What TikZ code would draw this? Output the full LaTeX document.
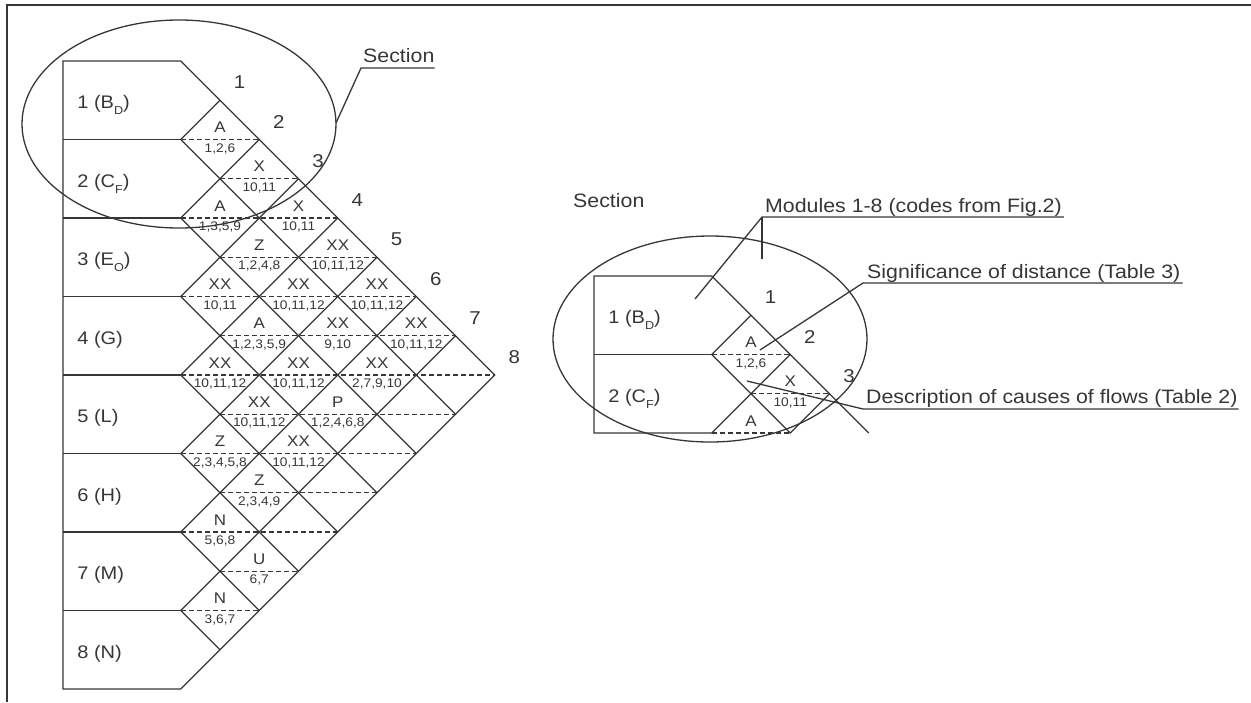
\documentclass[tikz,border=0pt]{standalone}
\usepackage{fontspec}
\setmainfont{Liberation Sans}[FakeStretch=1.1]
\definecolor{ink}{HTML}{363636}
\newcommand\fsz[1]{\fontsize{#1}{#1}\selectfont}
\newcommand\sbs[1]{\raisebox{-6pt}{\fsz{11.5}#1}}
\tikzset{every node/.style={inner sep=0pt,text=ink}}
\tikzset{ln/.style={draw=ink,line width=1.3pt}}
\tikzset{dl/.style={ln,dash pattern=on 5pt off 3pt}}
\tikzset{mod/.style={anchor=base west,font=\fsz{18.2}}}
\tikzset{colnum/.style={font=\fsz{18.6}}}
\tikzset{ltr/.style={anchor=base,font=\fsz{15.4}}}
\tikzset{num/.style={anchor=base,font=\fsz{12.5}}}
\tikzset{lab/.style={anchor=base west,font=\fsz{19.4}}}

\begin{document}
\begin{tikzpicture}[x=1pt,y=-1pt]
  \useasboundingbox (0,0) rectangle (1251,702);
  \draw[ink,line width=1.6pt] (1251,5) -- (7,5) -- (7,702);

  % full matrix of modules 1-8
  \begin{scope}[xshift=63pt,yshift=-61pt,x=39.25pt,y=-39.25pt]
    \draw[ln] (0,0) -- (3,0) -- (11,8) -- (3,16) -- (0,16) -- cycle;
    \foreach \k in {1,...,7}{
      \draw[ln] (0,{2*\k}) -- (3,{2*\k});
      \draw[ln] ({3+\k},\k) -- (3,{2*\k}) -- ({11-\k},{8+\k});
    }
    \foreach \m in {2,...,14}{
      \pgfmathsetmacro\xa{3+mod(\m,2)}
      \pgfmathsetmacro\xb{3+min(\m,16-\m)}
      \draw[dl] (\xa,\m) -- (\xb,\m);
    }
    \foreach \i/\t in {1/{1 (B\sbs{D})},2/{2 (C\sbs{F})},3/{3 (E\sbs{O})},4/{4 (G)},
                       5/{5 (L)},6/{6 (H)},7/{7 (M)},8/{8 (N)}}
      \node[mod,yshift=-8.5pt] (m\i) at (0.36,{2*\i-1}) {\t};
    \foreach \k in {1,...,8}
      \node[colnum] (k\k) at ({\k+3.5},{\k-0.45}) {\k};
    \foreach \i/\j/\a/\b in {1/2/A/{1,2,6},1/3/X/{10,11},2/3/A/{1,3,5,9},1/4/X/{10,11},
        2/4/Z/{1,2,4,8},1/5/XX/{10,11,12},3/4/XX/{10,11},2/5/XX/{10,11,12},1/6/XX/{10,11,12},
        3/5/A/{1,2,3,5,9},2/6/XX/{9,10},1/7/XX/{10,11,12},4/5/XX/{10,11,12},3/6/XX/{10,11,12},
        2/7/XX/{2,7,9,10},4/6/XX/{10,11,12},3/7/P/{1,2,4,6,8},5/6/Z/{2,3,4,5,8},
        4/7/XX/{10,11,12},5/7/Z/{2,3,4,9},6/7/N/{5,6,8},6/8/U/{6,7},7/8/N/{3,6,7}}{
      \node[ltr,yshift=7pt] (c\i\j) at ({3+\j-\i},{\i+\j-1}) {\a};
      \node[num,yshift=-12.5pt] (n\i\j) at ({3+\j-\i},{\i+\j-1}) {\b};
    }
  \end{scope}
  \draw[ln] (179,124) ellipse [x radius=157,y radius=104];
  \node[lab] (sec1) at (363,62) {Section};
  \coordinate (e1) at (336,123);
  \coordinate (q0) at (361,68);
  \draw[ln] (e1) -- (q0) -- (q0 -| sec1.east);

  % enlarged section
  \node[lab] (sec2) at (573,207) {Section};
  \begin{scope}[xshift=594pt,yshift=-276pt,x=39.25pt,y=-39.25pt]
    \draw[ln] (7,4) -- (3,0) -- (0,0) -- (0,4) -- (3,4) -- (5,2);
    \draw[ln] (0,2) -- (3,2);
    \draw[ln] (4,1) -- (3,2) -- (5,4) -- (6,3);
    \draw[dl] (3,2) -- (5,2);
    \draw[dl] (4,3) -- (6,3);
    \draw[dl] (3,4) -- (5,4);
    \node[mod,yshift=-8.5pt] (r1) at (0.36,1) {1 (B\sbs{D})};
    \node[mod,yshift=-8.5pt] (r2) at (0.36,3) {2 (C\sbs{F})};
    \foreach \k in {1,2,3}
      \node[colnum] (rk\k) at ({\k+3.5},{\k-0.45}) {\k};
    \node[ltr,yshift=7pt] (rc12) at (4,2) {A};
    \node[num,yshift=-12.5pt] (rn12) at (4,2) {1,2,6};
    \node[ltr,yshift=7pt] (rc13) at (5,3) {X};
    \node[num,yshift=-12.5pt] (rn13) at (5,3) {10,11};
    \node[ltr,yshift=7pt] (rc23) at (4,4) {A};
  \end{scope}
  \draw[ln] (710,339) ellipse [x radius=157,y radius=103];
  \node[lab] (mods) at (765,212) {Modules 1-8 (codes from Fig.2)};
  \node[lab] (sig) at (867,278) {Significance of distance (Table 3)};
  \node[lab] (desc) at (866,403) {Description of causes of flows (Table 2)};
  \coordinate (p1) at (695,299);
  \coordinate (p2) at (762,259);
  \coordinate (p3) at (760,350);
  \coordinate (p4) at (747,381);
  \coordinate (q1) at (762,217);
  \coordinate (q2) at (863,283);
  \coordinate (q3) at (863,409);
  \draw[ln] (p1) -- (q1) -- ([xshift=2pt]q1 -| mods.east);
  \draw[ln] (q1) -- (p2);
  \draw[ln] (p3) -- (q2) -- ([xshift=2pt]q2 -| sig.east);
  \draw[ln] (p4) -- (q3) -- ([xshift=1pt]q3 -| desc.east);
\end{tikzpicture}
\end{document}
